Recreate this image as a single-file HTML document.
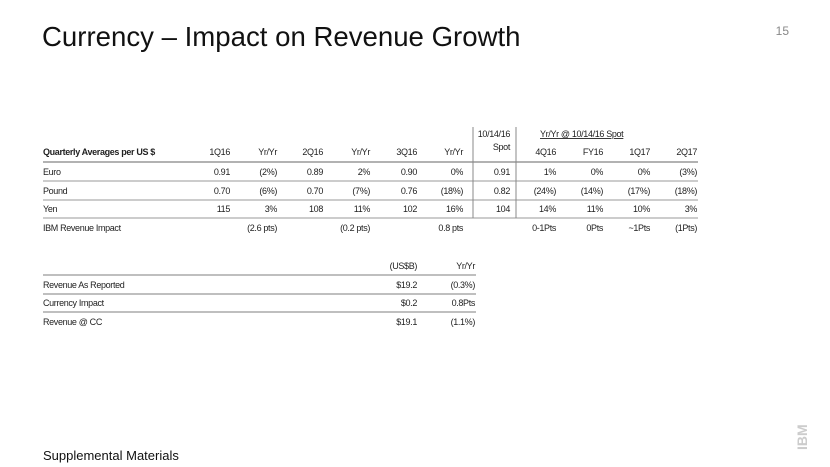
<!DOCTYPE html>
<html><head><meta charset="utf-8"><style>
body{margin:0;background:#fff}
svg{display:block;font-family:"Liberation Sans",sans-serif}
.t{font-size:9px;fill:#222;letter-spacing:-0.35px}
</style></head><body>
<svg width="830" height="467" viewBox="0 0 830 467">
<text x="42" y="46" font-size="27.6" fill="#111">Currency – Impact on Revenue Growth</text>
<text x="789" y="35" font-size="12" fill="#888" text-anchor="end">15</text>
<text x="43" y="460" font-size="13" fill="#111">Supplemental Materials</text>
<g transform="translate(797,450) rotate(-90)"><text x="0" y="10" font-size="14" font-weight="bold" fill="#ccc">IBM</text></g>
<g id="t1"></g>
<g id="t2"></g>
</svg>
<script>
const colX=[230,277,323,370,417,463,510,556,603,650,697];
const headers=["1Q16","Yr/Yr","2Q16","Yr/Yr","3Q16","Yr/Yr","Spot","4Q16","FY16","1Q17","2Q17"];
const rowLabels=["Euro","Pound","Yen","IBM Revenue Impact"];
const rowValues=[
["0.91","(2%)","0.89","2%","0.90","0%","0.91","1%","0%","0%","(3%)"],
["0.70","(6%)","0.70","(7%)","0.76","(18%)","0.82","(24%)","(14%)","(17%)","(18%)"],
["115","3%","108","11%","102","16%","104","14%","11%","10%","3%"],
["","(2.6 pts)","","(0.2 pts)","","0.8 pts","","0-1Pts","0Pts","~1Pts","(1Pts)"]];
const rev2Labels=["Revenue As Reported","Currency Impact","Revenue @ CC"];
const rev2Values=[["$19.2","(0.3%)"],["$0.2","0.8Pts"],["$19.1","(1.1%)"]];
const NS="http://www.w3.org/2000/svg";
function mk(p,tag,a,txt){const e=document.createElementNS(NS,tag);for(const k in a)e.setAttribute(k,a[k]);if(txt!=null)e.textContent=txt;p.appendChild(e);return e;}
function txt(p,x,y,s,anchor,name,bold){const e=mk(p,"text",{x:x,y:y,class:"t","text-anchor":anchor||"end"},s);


if(bold)e.setAttribute("font-weight","bold");return e;}
function line(p,x1,y1,x2,y2,c,w){const e=mk(p,"line",{x1:x1,y1:y1,x2:x2,y2:y2,stroke:c,"stroke-width":w});

}
const t1=document.getElementById("t1");
txt(t1,43,155,"Quarterly Averages per US $","start","header-label",true);
headers.forEach((h,i)=>txt(t1,colX[i],i==6?150:155,h,"end","column-header"));
txt(t1,510,137,"10/14/16","end","spot-date-header");
const sp=txt(t1,540,137,"Yr/Yr @ 10/14/16 Spot","start","spot-group-header");sp.setAttribute("text-decoration","underline");
line(t1,43,162,698,162,"#999",1.5);
const rowY=[175,194,212,231];
rowLabels.forEach((l,r)=>{txt(t1,43,rowY[r],l,"start","row-label");
rowValues[r].forEach((v,i)=>{if(v)txt(t1,colX[i],rowY[r],v,"end","cell-value");});
if(r<3)line(t1,43,rowY[r]+6,698,rowY[r]+6,"#999",1);});
line(t1,473,127,473,218,"#888",1);line(t1,516,127,516,218,"#888",1);
const t2=document.getElementById("t2");
txt(t2,417,269,"(US$B)","end","column-header");txt(t2,475,269,"Yr/Yr","end","column-header");
line(t2,43,275,476,275,"#aaa",1.5);
const r2Y=[288,306,325];
rev2Labels.forEach((l,r)=>{txt(t2,43,r2Y[r],l,"start","row-label");
txt(t2,417,r2Y[r],rev2Values[r][0],"end","cell-value");txt(t2,475,r2Y[r],rev2Values[r][1],"end","cell-value");
if(r<2)line(t2,43,r2Y[r]+6,476,r2Y[r]+6,"#aaa",1.5);});
</script>
</body></html>
